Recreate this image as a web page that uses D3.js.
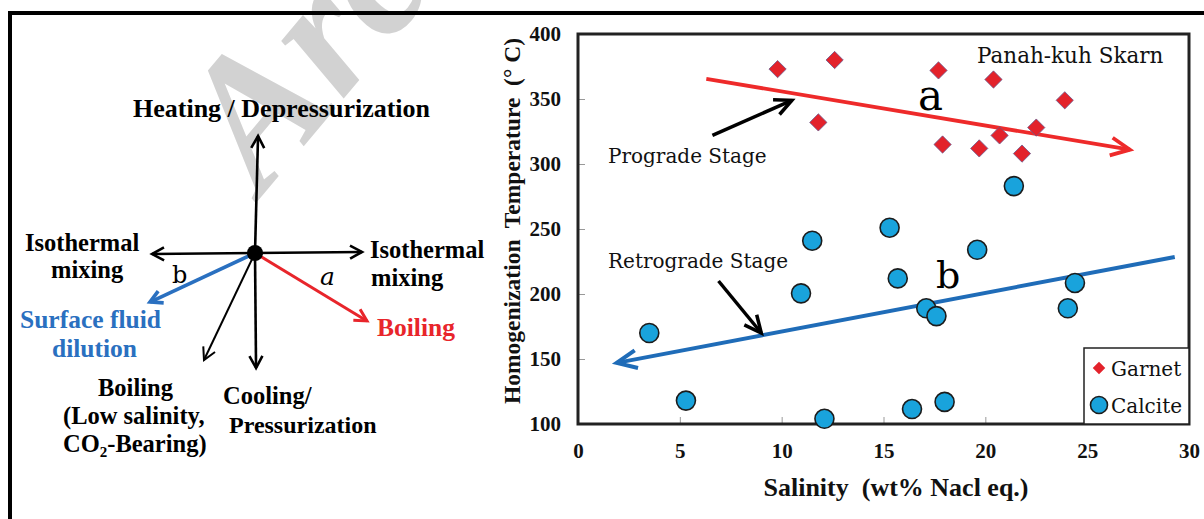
<!DOCTYPE html>
<html>
<head>
<meta charset="utf-8">
<script src="https://cdn.jsdelivr.net/npm/d3@7/dist/d3.min.js"></script>
<style>
  html, body { margin: 0; padding: 0; background: #fff; }
  svg { display: block; }
  text { white-space: pre; }
</style>
</head>
<body>
<svg id="chart" width="1204" height="519"></svg>
<script>
// ---------------- DATA ----------------
const xTicks = [0, 5, 10, 15, 20, 25, 30];
const yTicks = [100, 150, 200, 250, 300, 350, 400];

// Garnet (prograde stage)
const garnetSalinity = [9.8, 12.6, 11.8, 17.7, 20.4, 23.9, 22.5, 20.7, 17.9, 19.7, 21.8];
const garnetTemp     = [373, 380, 332, 372, 365, 349, 328, 322, 315, 312, 308];

// Calcite (retrograde stage)
const calciteSalinity = [21.4, 11.5, 10.95, 3.5, 5.3, 12.1, 15.3, 19.6, 15.7, 17.1, 17.6, 24.4, 24.05, 16.4, 18.0];
const calciteTemp     = [283, 241, 200.5, 170, 118, 104, 251, 234, 212, 189, 183, 208.5, 189, 111.5, 117];

// Trend arrows (salinity, temperature): start -> tip
const trendA = [[6.3, 365.5], [27.1, 311]];
const trendB = [[29.3, 228.5], [1.9, 147]];
const progradePointer = [[6.6, 322], [10.5, 349]];
const retrogradePointer = [[6.9, 210], [9.0, 170]];

// Schematic vectors (unit coordinates, origin = fluid evolution point)
const schemeVectors = [
  { name: "up",    dx: 0.026,  dy: 1.0,    color: "#000", w: 2.6 },
  { name: "down",  dx: 0.009,  dy: -0.983, color: "#000", w: 2.6 },
  { name: "left",  dx: -0.88,  dy: -0.009, color: "#000", w: 2.6 },
  { name: "right", dx: 0.915,  dy: 0.009,  color: "#000", w: 2.6 },
  { name: "diag",  dx: -0.436, dy: -0.915, color: "#000", w: 2.0 },
  { name: "blue",  dx: -0.897, dy: -0.419, color: "#2a70c0", w: 3.6 },
  { name: "red",   dx: 0.957,  dy: -0.581, color: "#e8252b", w: 3.0 }
];

// ---------------- DRAW ----------------
const svg = d3.select("#chart");
const serifB = "'Liberation Serif', 'Times New Roman', serif";
const serifC = "'DejaVu Serif', serif";

function chevron(x1, y1, x2, y2, len, hw) {
  const dx = x2 - x1, dy = y2 - y1, L = Math.hypot(dx, dy);
  const ux = dx / L, uy = dy / L, px = -uy, py = ux;
  const bx = x2 - ux * len, by = y2 - uy * len;
  return `M${bx + px * hw},${by + py * hw}L${x2},${y2}L${bx - px * hw},${by - py * hw}`;
}

// watermark (behind)
svg.append("text")
  .attr("transform", "translate(262,196) rotate(-50)")
  .attr("font-family", serifB).attr("font-weight", "bold").attr("font-style", "italic")
  .attr("font-size", 185).attr("fill", "#d2d2d2")
  .text("Arc");

// outer frame (extends beyond the view on right/bottom)
svg.append("rect").attr("x", 10).attr("y", 13).attr("width", 1400).attr("height", 700)
  .attr("fill", "none").attr("stroke", "#000").attr("stroke-width", 4);

// ---------- Left schematic ----------
const sx = d3.scaleLinear().domain([-1, 1]).range([255 - 117, 255 + 117]);
const sy = d3.scaleLinear().domain([-1, 1]).range([253 + 117, 253 - 117]);
const scheme = svg.append("g");
schemeVectors.forEach(v => {
  const x1 = sx(0), y1 = sy(0), x2 = sx(v.dx), y2 = sy(v.dy);
  scheme.append("line").attr("x1", x1).attr("y1", y1).attr("x2", x2).attr("y2", y2)
    .attr("stroke", v.color).attr("stroke-width", v.w);
  scheme.append("path").attr("d", chevron(x1, y1, x2, y2, 12, 6.5))
    .attr("fill", "none").attr("stroke", v.color).attr("stroke-width", v.w)
    .attr("stroke-linejoin", "miter");
});
scheme.append("circle").attr("cx", sx(0)).attr("cy", sy(0)).attr("r", 8).attr("fill", "#000");

const schemeLabels = [
  { t: "Heating / Depressurization", x: 133, y: 117, s: 26, c: "#000" },
  { t: "Isothermal", x: 25, y: 251, s: 24.5, c: "#000" },
  { t: "mixing", x: 51, y: 278, s: 24.5, c: "#000" },
  { t: "Isothermal", x: 370, y: 258, s: 24.5, c: "#000" },
  { t: "mixing", x: 371, y: 286, s: 24.5, c: "#000" },
  { t: "Surface fluid", x: 20, y: 328, s: 25.5, c: "#2a70c0" },
  { t: "dilution", x: 52, y: 357, s: 25.5, c: "#2a70c0" },
  { t: "Boiling", x: 377, y: 336, s: 25.5, c: "#e8252b" },
  { t: "Boiling", x: 98, y: 396, s: 24.5, c: "#000" },
  { t: "(Low salinity,", x: 63, y: 424, s: 24.5, c: "#000" },
  { t: "Cooling/", x: 223, y: 404, s: 24.5, c: "#000" },
  { t: "Pressurization", x: 229, y: 433, s: 24, c: "#000" }
];
schemeLabels.forEach(l => {
  scheme.append("text").attr("x", l.x).attr("y", l.y)
    .attr("font-family", serifB).attr("font-weight", "bold").attr("font-size", l.s)
    .attr("fill", l.c).text(l.t);
});
const co2 = scheme.append("text").attr("x", 63).attr("y", 452)
  .attr("font-family", serifB).attr("font-weight", "bold").attr("font-size", 24.5).attr("fill", "#000");
co2.append("tspan").text("CO");
co2.append("tspan").attr("font-size", 15).attr("dy", 5).text("2");
co2.append("tspan").attr("dy", -5).text("-Bearing)");

scheme.append("text").attr("x", 172).attr("y", 283)
  .attr("font-family", serifC).attr("font-size", 24).attr("fill", "#000").text("b");
scheme.append("text").attr("x", 320).attr("y", 285)
  .attr("font-family", serifC).attr("font-style", "italic").attr("font-size", 25).attr("fill", "#000").text("a");

// ---------- Right scatter plot ----------
const x = d3.scaleLinear().domain([0, 30]).range([578, 1189]);
const y = d3.scaleLinear().domain([100, 400]).range([424, 34]);
const plot = svg.append("g");

const yAxis = plot.append("g").attr("transform", `translate(${x(0)},0)`)
  .call(d3.axisLeft(y).tickValues(yTicks).tickSize(-7).tickPadding(17));
const xAxis = plot.append("g").attr("transform", `translate(0,${y(100)})`)
  .call(d3.axisBottom(x).tickValues(xTicks).tickSize(-7).tickPadding(19));
[xAxis, yAxis].forEach(a => {
  a.select(".domain").remove();
  a.selectAll(".tick line").attr("stroke", "#999").attr("stroke-width", 1);
  a.selectAll(".tick text").attr("font-family", serifB).attr("font-weight", "bold")
    .attr("font-size", 21).attr("fill", "#111");
});

// plot frame
plot.append("rect").attr("x", x(0)).attr("y", y(400))
  .attr("width", x(30) - x(0)).attr("height", y(100) - y(400))
  .attr("fill", "none").attr("stroke", "#222").attr("stroke-width", 3);

// axis titles
plot.append("text").attr("x", 896).attr("y", 496).attr("text-anchor", "middle")
  .attr("font-family", serifB).attr("font-weight", "bold").attr("font-size", 26).attr("fill", "#111")
  .text("Salinity  (wt% Nacl eq.)");
plot.append("text").attr("transform", "translate(520,221) rotate(-90)").attr("text-anchor", "middle")
  .attr("font-family", serifB).attr("font-weight", "bold").attr("font-size", 23.5).attr("fill", "#111")
  .text("Homogenization  Temperature  (° C)");

// trend arrows
function drawArrow(pts, color, w, len, hw) {
  const x1 = x(pts[0][0]), y1 = y(pts[0][1]), x2 = x(pts[1][0]), y2 = y(pts[1][1]);
  plot.append("line").attr("x1", x1).attr("y1", y1).attr("x2", x2).attr("y2", y2)
    .attr("stroke", color).attr("stroke-width", w);
  plot.append("path").attr("d", chevron(x1, y1, x2, y2, len, hw))
    .attr("fill", "none").attr("stroke", color).attr("stroke-width", w);
}
drawArrow(trendA, "#ee2a2a", 3.8, 19, 9);
drawArrow(trendB, "#1f6cb8", 4, 20, 9);
drawArrow(progradePointer, "#000", 3.5, 17, 8);
drawArrow(retrogradePointer, "#000", 3.5, 17, 8);

// calcite circles
plot.selectAll("circle.calcite").data(d3.zip(calciteSalinity, calciteTemp)).join("circle")
  .attr("class", "calcite")
  .attr("cx", d => x(d[0])).attr("cy", d => y(d[1])).attr("r", 9.5)
  .attr("fill", "#19a3dc").attr("stroke", "#1c1c1c").attr("stroke-width", 1.6);

// garnet diamonds
const diamond = d3.symbol().type(d3.symbolDiamond2).size(190);
plot.selectAll("path.garnet").data(d3.zip(garnetSalinity, garnetTemp)).join("path")
  .attr("class", "garnet")
  .attr("d", diamond)
  .attr("transform", d => `translate(${x(d[0])},${y(d[1])})`)
  .attr("fill", "#e3222b").attr("stroke", "#6b5a8e").attr("stroke-width", 0.8);

// annotations
plot.append("text").attr("x", 977).attr("y", 63)
  .attr("font-family", serifC).attr("font-size", 21.5).attr("fill", "#111").text("Panah-kuh Skarn");
plot.append("text").attr("x", 608).attr("y", 163)
  .attr("font-family", serifC).attr("font-size", 20).attr("fill", "#111").text("Prograde Stage");
plot.append("text").attr("x", 608).attr("y", 268)
  .attr("font-family", serifC).attr("font-size", 20).attr("fill", "#111").text("Retrograde Stage");
plot.append("text").attr("x", 918).attr("y", 110)
  .attr("font-family", serifC).attr("font-size", 42).attr("fill", "#000").text("a");
plot.append("text").attr("x", 936).attr("y", 288)
  .attr("font-family", serifC).attr("font-size", 38).attr("fill", "#000").text("b");

// legend
const lg = plot.append("g");
lg.append("rect").attr("x", 1084).attr("y", 348).attr("width", x(30) - 1084).attr("height", y(100) - 348)
  .attr("fill", "#fff").attr("stroke", "#222").attr("stroke-width", 1.5);
lg.append("path").attr("d", d3.symbol().type(d3.symbolDiamond2).size(100))
  .attr("transform", "translate(1099,368)").attr("fill", "#e3222b");
lg.append("circle").attr("cx", 1099).attr("cy", 405).attr("r", 8.5)
  .attr("fill", "#19a3dc").attr("stroke", "#1c1c1c").attr("stroke-width", 1.6);
lg.append("text").attr("x", 1111).attr("y", 376)
  .attr("font-family", serifC).attr("font-size", 20).attr("fill", "#111").text("Garnet");
lg.append("text").attr("x", 1111).attr("y", 413)
  .attr("font-family", serifC).attr("font-size", 20).attr("fill", "#111").text("Calcite");
</script>
</body>
</html>
